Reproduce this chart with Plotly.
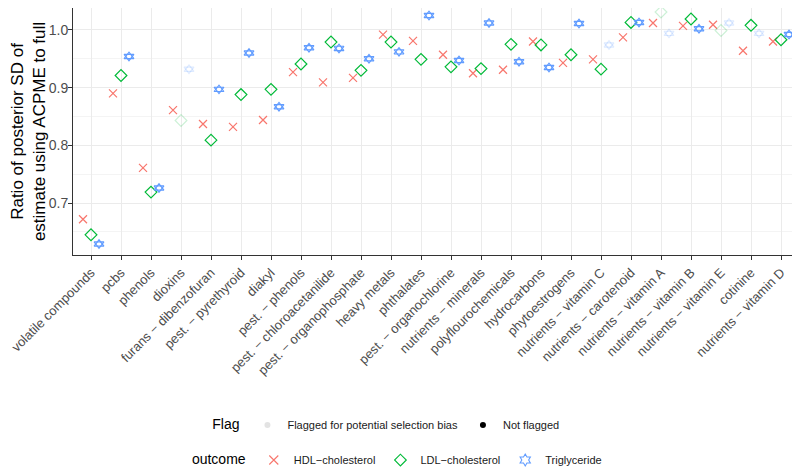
import plotly.graph_objects as go

# exposure classes, in plotting order
classes = ["volatile compounds", "pcbs", "phenols", "dioxins",
           "furans − dibenzofuran", "pest. − pyrethyroid", "diakyl",
           "pest. − phenols", "pest. − chloroacetanilide",
           "pest. − organophosphate", "heavy metals", "phthalates",
           "pest. − organochlorine", "nutrients − minerals",
           "polyflourochemicals", "hydrocarbons", "phytoestrogens",
           "nutrients − vitamin C", "nutrients − carotenoid",
           "nutrients − vitamin A", "nutrients − vitamin B",
           "nutrients − vitamin E", "cotinine", "nutrients − vitamin D"]

# ratio of posterior SD (ACPME / full)
hdl = [0.672, 0.890, 0.761, 0.861, 0.837, 0.832, 0.844, 0.927, 0.909, 0.917,
       0.992, 0.981, 0.957, 0.925, 0.931, 0.980, 0.943, 0.949, 0.987, 1.012,
       1.007, 1.009, 0.964, 0.980]
ldl = [0.645, 0.921, 0.719, 0.843, 0.809, 0.888, 0.897, 0.941, 0.979, 0.930,
       0.979, 0.949, 0.936, 0.933, 0.975, 0.974, 0.957, 0.932, 1.013, 1.031,
       1.019, 0.999, 1.008, 0.983]
trig = [0.629, 0.954, 0.726, 0.932, 0.897, 0.960, 0.867, 0.969, 0.968, 0.950,
        0.962, 1.025, 0.947, 1.012, 0.945, 0.935, 1.011, 0.974, 1.013, 0.994,
        1.002, 1.012, 0.994, 0.992]

# classes flagged for potential selection bias, per outcome
hdl_flag = []
ldl_flag = ["dioxins", "nutrients − vitamin A", "nutrients − vitamin E"]
trig_flag = ["dioxins", "nutrients − vitamin C", "nutrients − vitamin A",
             "nutrients − vitamin E", "cotinine"]

FADE = 0.2

# shape 11 in ggplot = open up-triangle over open down-triangle
outcomes = [
    ("HDL−cholesterol", hdl, hdl_flag, "#F8766D", ["x-thin-open"], 8),
    ("LDL−cholesterol", ldl, ldl_flag, "#00BA38", ["diamond-open"], 9),
    ("Triglyceride", trig, trig_flag, "#619CFF",
     ["triangle-up-open", "triangle-down-open"], 8.5),
]
legend_syms = {"HDL−cholesterol": "x-thin-open",
               "LDL−cholesterol": "diamond-open",
               "Triglyceride": "hexagram-open"}

fig = go.Figure()

for name, vals, flagged, col, syms, sz in outcomes:
    op = [FADE if c in flagged else 1.0 for c in classes]
    for sym in syms:
        fig.add_trace(go.Scatter(
            x=classes, y=vals, mode="markers", name=name, showlegend=False,
            offsetgroup=name,
            marker=dict(symbol=sym, size=sz, color=col, opacity=op,
                        line=dict(color=col, width=1.2)),
        ))

# legend-only traces (kept on a hidden axis so they don't join the dodge)
for lab, col in [("Flagged for potential selection bias", "#e3e3e3"),
                 ("Not flagged", "black")]:
    fig.add_trace(go.Scatter(
        x=[None], y=[None], mode="markers", name=lab, legend="legend",
        xaxis="x2", yaxis="y2",
        marker=dict(symbol="circle", size=6, color=col)))

for name, vals, flagged, col, syms, sz in outcomes:
    fig.add_trace(go.Scatter(
        x=[None], y=[None], mode="markers", name=name, legend="legend2",
        xaxis="x2", yaxis="y2",
        marker=dict(symbol=legend_syms[name], size=9, color=col,
                    line=dict(color=col, width=1.1))))

# page body has an 8px margin, so the figure is a bit smaller than the window
axcol = "#333333"
fig.update_layout(
    width=792, height=461,
    margin=dict(l=65, r=1, t=0, b=214, autoexpand=False),
    paper_bgcolor="white", plot_bgcolor="white",
    font=dict(family="Liberation Sans, Arial, sans-serif", color="#1a1a1a"),
    scattermode="group", scattergap=0.2,
    xaxis=dict(
        type="category", categoryorder="array", categoryarray=classes,
        range=[-0.6, len(classes) - 0.4], automargin=False,
        tickangle=-45, tickfont=dict(size=13, color="#4d4d4d"),
        ticks="outside", ticklen=4, tickcolor=axcol,
        showgrid=True, gridcolor="#ebebeb", gridwidth=1,
        showline=True, linecolor=axcol, linewidth=1, mirror=True,
        zeroline=False,
    ),
    yaxis=dict(
        range=[0.61, 1.038], dtick=0.1, tick0=0.7, automargin=False,
        tickformat=".1f", tickfont=dict(size=14, color="#4d4d4d"),
        ticks="outside", ticklen=4, tickcolor=axcol, ticklabelstandoff=-3,
        showgrid=True, gridcolor="#ebebeb", gridwidth=1,
        minor=dict(dtick=0.05, tick0=0.65, showgrid=True,
                   gridcolor="#f4f4f4", gridwidth=0.6),
        showline=True, linecolor=axcol, linewidth=1, mirror=True,
        zeroline=False,
        title=dict(text="Ratio of posterior SD of<br>estimate using ACPME to full",
                   font=dict(size=17, color="black"), standoff=8),
    ),
    xaxis2=dict(overlaying="x", visible=False),
    yaxis2=dict(overlaying="y", visible=False),
    legend=dict(
        orientation="h", x=0.189, xanchor="left", y=-0.688, yanchor="middle",
        title=dict(text="Flag", side="left", font=dict(size=14, color="black")),
        font=dict(size=11, color="#1a1a1a"), itemwidth=30,
        bgcolor="rgba(0,0,0,0)", tracegroupgap=0,
    ),
    legend2=dict(
        orientation="h", x=0.161, xanchor="left", y=-0.830, yanchor="middle",
        title=dict(text="outcome", side="left", font=dict(size=14, color="black")),
        font=dict(size=11, color="#1a1a1a"), itemwidth=30,
        bgcolor="rgba(0,0,0,0)", tracegroupgap=0,
    ),
)

fig.write_html("out.html")
